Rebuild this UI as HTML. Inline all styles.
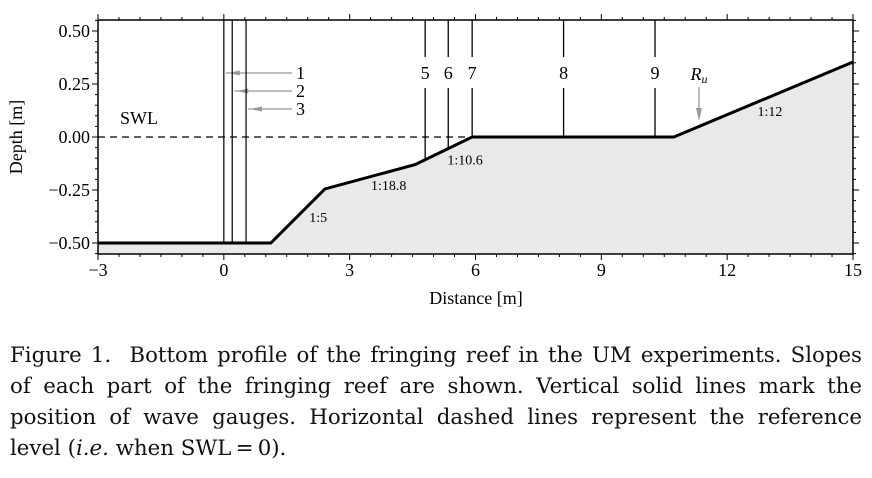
<!DOCTYPE html>
<html><head><meta charset="utf-8">
<style>
body{margin:0;background:#fff;width:872px;height:478px;overflow:hidden;position:relative;font-family:"Liberation Serif",serif}
#cap{position:absolute;left:10px;top:340px;width:852px;font-family:"DejaVu Serif",serif;font-size:21.3px;line-height:31px;color:#111}
#cap div{text-align:justify;text-align-last:justify;white-space:nowrap}
#cap div.last{text-align-last:left}
svg{position:absolute;left:0;top:0;font-family:"Liberation Serif",serif}
svg text{font-family:"Liberation Serif",serif}
</style></head><body>
<svg id="chart" width="872" height="320"></svg>
<div id="cap">
<div>Figure 1.&nbsp; Bottom profile of the fringing reef in the UM experiments. Slopes</div>
<div>of each part of the fringing reef are shown. Vertical solid lines mark the</div>
<div>position of wave gauges. Horizontal dashed lines represent the reference</div>
<div class="last">level (<i>i.e.</i> when SWL&thinsp;=&thinsp;0).</div>
</div>
<script>
const profileX=[-3,1.12,2.41,4.56,5.92,10.73,15];
const profileY=[-0.5,-0.5,-0.245,-0.13,0,0,0.354];
const gaugeNames=['1','2','3','5','6','7','8','9'];
const gaugeX=[0.0,0.2,0.53,4.8,5.35,5.92,8.1,10.28];
const xTicks=[-3,0,3,6,9,12,15];
const yTicks=[0.5,0.25,0,-0.25,-0.5];
const yTickLabels=['0.50','0.25','0.00','\u22120.25','\u22120.50'];
const slopeLabels=['1:5','1:18.8','1:10.6','1:12'];
const slopePos=[[2.25,-0.40],[3.93,-0.25],[5.75,-0.13],[13.02,0.10]];

const L=98,R=853,T=20,B=254;
const sx=x=>L+(x+3)/18*(R-L);
const sy=y=>137-y*212;
const svg=document.getElementById('chart');
const NS='http://www.w3.org/2000/svg';
function mk(t,a){const e=document.createElementNS(NS,t);for(const k in a)e.setAttribute(k,a[k]);svg.appendChild(e);return e;}

let d='M'+sx(profileX[0])+','+B;
profileX.forEach((x,i)=>d+=' L'+sx(x)+','+sy(profileY[i]));
d+=' L'+R+','+B+' Z';
let e=mk('path',{d:d,fill:'#e9e9e9',stroke:'none'});


e=mk('line',{x1:L,x2:sx(5.92),y1:sy(0),y2:sy(0),stroke:'#000','stroke-width':1.3,'stroke-dasharray':'7,5'});


gaugeX.forEach((gx,i)=>{
  let ybot=sy(-0.5);
  for(let k=0;k<profileX.length-1;k++){if(gx>=profileX[k]&&gx<=profileX[k+1]){const t=(gx-profileX[k])/(profileX[k+1]-profileX[k]);ybot=sy(profileY[k]+t*(profileY[k+1]-profileY[k]));break;}}
  const x=sx(gx);
  if(i<3){
    e=mk('line',{x1:x,x2:x,y1:T,y2:ybot,stroke:'#000','stroke-width':1.2});
    
    
    const ly=73+i*18;
    e=mk('line',{x1:x+2,x2:292,y1:ly,y2:ly,stroke:'#999','stroke-width':1.3});
    
    
    mk('polygon',{points:(x+4)+','+ly+' '+(x+16)+','+(ly-2.5)+' '+(x+16)+','+(ly+2.5),fill:'#999'});
    e=mk('text',{x:296,y:ly+6,'font-size':18});e.textContent=gaugeNames[i];
    
    
  }else{
    e=mk('line',{x1:x,x2:x,y1:T,y2:57,stroke:'#000','stroke-width':1.3});
    
    
    e=mk('line',{x1:x,x2:x,y1:88,y2:ybot,stroke:'#000','stroke-width':1.3});
    
    
    e=mk('text',{x:x,y:79,'font-size':18,'text-anchor':'middle'});e.textContent=gaugeNames[i];
    
    
  }
});
e=mk('polyline',{points:profileX.map((x,i)=>sx(x)+','+sy(profileY[i])).join(' '),fill:'none',stroke:'#000','stroke-width':3});


slopeLabels.forEach((s,i)=>{e=mk('text',{x:sx(slopePos[i][0]),y:sy(slopePos[i][1]),'font-size':14,'text-anchor':'middle'});e.textContent=s;
  
  });
e=mk('text',{x:699,y:80,'font-size':18,'font-style':'italic','text-anchor':'middle'});e.innerHTML='R<tspan font-size="12" dy="3">u</tspan>';


mk('line',{x1:699,x2:699,y1:87,y2:112,stroke:'#999','stroke-width':1.3});
mk('polygon',{points:'699,121 696,108 702,108',fill:'#999'});
e=mk('text',{x:120,y:124,'font-size':18});e.textContent='SWL';


e=mk('rect',{x:L,y:T,width:R-L,height:B-T,fill:'none',stroke:'#000','stroke-width':1.5});


for(let v=-3;v<=15.001;v+=0.5){const x=sx(v);const maj=Math.abs(v%3)<1e-6;const len=maj?6:3;
  mk('line',{x1:x,x2:x,y1:B,y2:B+len,stroke:'#000','stroke-width':1});
  mk('line',{x1:x,x2:x,y1:T,y2:T-len,stroke:'#000','stroke-width':1});}
for(let v=-0.55;v<=0.551;v+=0.05){const y=sy(v);const maj=Math.abs((Math.round(v*100))%25)==0;const len=maj?6:3;
  mk('line',{x1:L,x2:L-len,y1:y,y2:y,stroke:'#000','stroke-width':1});
  mk('line',{x1:R,x2:R+len,y1:y,y2:y,stroke:'#000','stroke-width':1});}
xTicks.forEach(v=>{e=mk('text',{x:sx(v),y:B+22,'font-size':18,'text-anchor':'middle'});e.textContent=(v<0?'\u2212'+(-v):v);
  
  });
yTicks.forEach((v,i)=>{e=mk('text',{x:L-8,y:sy(v)+6,'font-size':18,'text-anchor':'end'});e.textContent=yTickLabels[i];
  
  });
e=mk('text',{x:476,y:304,'font-size':18,'text-anchor':'middle'});e.textContent='Distance [m]';


e=mk('text',{x:22,y:137,'font-size':18,'text-anchor':'middle',transform:'rotate(-90 22 137)'});e.textContent='Depth [m]';


</script>
</body></html>
